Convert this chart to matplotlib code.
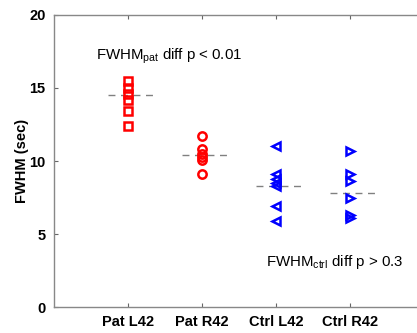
import matplotlib
matplotlib.use("Agg")
import matplotlib.pyplot as plt

categories = ["Pat L42", "Pat R42", "Ctrl L42", "Ctrl R42"]
pat_l42 = [15.5, 15.0, 14.6, 14.2, 13.4, 12.4]
pat_r42 = [11.7, 10.8, 10.5, 10.3, 10.1, 9.1]
ctrl_l42 = [11.0, 9.1, 8.8, 8.5, 8.3, 6.9, 5.9]
ctrl_r42 = [10.7, 9.1, 8.6, 7.5, 6.3, 6.1]
group_means = [14.5, 10.4, 8.3, 7.8]
yticks = [0, 5, 10, 15, 20]

plt.rcParams['font.family'] = ['Liberation Sans', 'DejaVu Sans']

fig = plt.figure(figsize=(4.17, 3.33), dpi=100)
ax = fig.add_axes([0.1295, 0.078, 0.888, 0.877])

series = [pat_l42, pat_r42, ctrl_l42, ctrl_r42]
markers = ['s', 'o', '<', '>']
colors = ['#ff0000', '#ff0000', '#0000ff', '#0000ff']
for i, (vals, m, c) in enumerate(zip(series, markers, colors)):
    xpos = i + 1
    ax.plot([xpos] * len(vals), vals, linestyle='none', marker=m,
            markersize=6.0, markerfacecolor='none', markeredgecolor=c,
            markeredgewidth=1.8, zorder=3)
    ax.plot([xpos - 0.27, xpos + 0.38], [group_means[i]] * 2,
            color='#808080', linewidth=1.0, dashes=(5, 4), zorder=2)

ax.text(0.57, 17.2, r"FWHM$_{\mathregular{pat}}$ diff p < 0.01", fontsize=10.8,
        va='center', ha='left')
ax.text(2.86, 3.1, r"FWHM$_{\mathregular{ctrl}}$ diff p > 0.3", fontsize=10.8,
        va='center', ha='left')

ax.set_xlim(0, 5)
ax.set_ylim(0, 20)
ax.set_xticks(range(1, len(categories) + 1))
ax.set_xticklabels(categories, fontweight='bold', fontsize=10.5)
ax.set_yticks(yticks)
ax.set_yticklabels([str(t) for t in yticks], fontweight='bold', fontsize=10.5)
ax.set_ylabel("FWHM (sec)", fontweight='bold', fontsize=10.5, labelpad=0)
ax.tick_params(direction='in', top=True, right=False, length=3, width=0.8,
               color='#666666', pad=6)
for s in ['left', 'bottom', 'top']:
    ax.spines[s].set_color('#888888')
    ax.spines[s].set_linewidth(1.0)
ax.spines['right'].set_visible(False)

fig.savefig("out.png", dpi=100)
